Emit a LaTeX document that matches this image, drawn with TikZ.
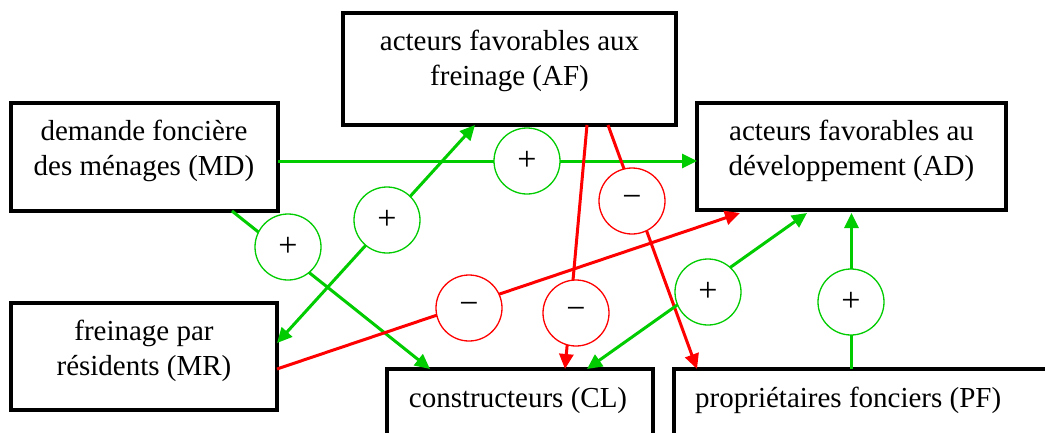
\documentclass[tikz,border=0pt]{standalone}
\usepackage{fontspec}
\setmainfont{LiberationSerif}[Extension=.ttf, UprightFont=*-Regular]
\usetikzlibrary{arrows.meta,calc}
\definecolor{pgreen}{RGB}{0,204,0}
\definecolor{pred}{RGB}{255,0,0}
\begin{document}
\begin{tikzpicture}[x=1pt,y=-1pt,
  box/.style={draw=black, line width=4pt, rectangle, outer sep=0pt, inner sep=0pt},
  txt/.style={font=\rmfamily\fontsize{29}{35}\selectfont, align=center, inner sep=0pt},
  sign/.style={circle, fill=white, line width=1.3pt, minimum size=66pt, inner sep=0pt, font=\rmfamily\fontsize{34}{34}\selectfont, text=black},
  possign/.style={sign, draw=pgreen},
  negsign/.style={sign, draw=pred},
  gl/.style={line width=3pt, draw=pgreen},
  rl/.style={line width=3pt, draw=pred},
  >={Triangle[length=15pt,width=14pt]}
]
\useasboundingbox (0,0) rectangle (1045,432);
\fill[white] (0,0) rectangle (1045,432);
\clip (0,0) rectangle (1045,432);

% boxes
\node[box, minimum width=333pt, minimum height=112pt] (AF) at (509.5,69) {};
\node[box, minimum width=267pt, minimum height=108pt] (MD) at (144.5,157) {};
\node[box, minimum width=309pt, minimum height=107pt] (AD) at (851.5,156.5) {};
\node[box, minimum width=266pt, minimum height=107pt] (MR) at (144,356.5) {};
\node[box, minimum width=266pt, minimum height=101pt] (CL) at (520,419.5) {};
\node[box, minimum width=396pt, minimum height=101pt] (PF) at (872,419.5) {};

% texts
\node[txt] (AFt) at (509.5,60.75) {acteurs favorables aux\\freinage (AF)};
\node[txt] (MDt) at (144,150.75) {demande foncière\\des ménages (MD)};
\node[txt] (ADt) at (851.5,150.75) {acteurs favorables au\\développement (AD)};
\node[txt] (MRt) at (144,350.75) {freinage par\\résidents (MR)};
\node[txt, anchor=base] (CLt) at (518,407) {constructeurs (CL)};
\node[txt, anchor=base west] (PFt) at (695,407) {propriétaires fonciers (PF)};

% connectors
\coordinate (aS) at ($(MD.east)+(0,4)$);
\coordinate (aE) at (aS -| AD.west);
\draw[gl,->] (aS) -- (aE);
\draw[gl,<->] ($(AF.south west)+(132,0)$) -- ($(MR.east)+(0,-13.5)$);
\draw[gl,->] ($(MD.south west)+(221,0)$) -- ($(CL.north west)+(43,0)$);
\draw[rl,->] ($(MR.east)+(0,12.5)$) -- ($(AD.south west)+(43,3)$);
\draw[rl,->] ($(AF.south west)+(244,0)$) -- ($(CL.north west)+(178,0)$);
\draw[rl,->] ($(AF.south west)+(265,0)$) -- ($(PF.north west)+(23,0)$);
\draw[gl,<->] ($(CL.north west)+(200,0)$) -- ($(AD.south west)+(110,3)$);
\draw[gl,->] (AD.south |- PF.north) -- ($(AD.south)+(0,3)$);

% signs
\node[possign] (c1) at (527,161) {+};
\node[possign] (c2) at (387,220) {+};
\node[possign] (c3) at (288,247) {+};
\node[negsign] (c4) at (632,201) {−};
\node[negsign] (c5) at (469,308) {−};
\node[negsign] (c6) at (576,313) {−};
\node[possign] (c7) at (708,292) {+};
\node[possign] (c8) at (851,302) {+};
\end{tikzpicture}
\end{document}
